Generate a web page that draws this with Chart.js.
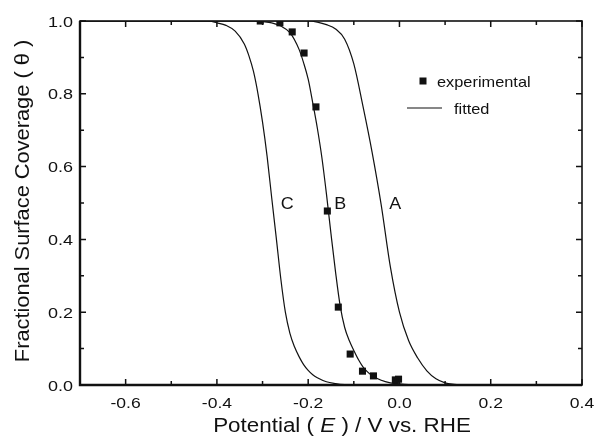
<!DOCTYPE html>
<html><head><meta charset="utf-8">
<script src="https://cdn.jsdelivr.net/npm/chart.js@4/dist/chart.umd.min.js"></script>
<style>html,body{margin:0;padding:0;background:#fff;}#wrap{width:596px;height:437px;}</style>
</head><body><div id="wrap"><canvas id="c" width="596" height="437"></canvas></div>
<script>
// ---- data ----
const expPotential = [-0.305, -0.262, -0.235, -0.209, -0.183, -0.158, -0.134, -0.108, -0.081, -0.057, -0.009, -0.002];
const expCoverage  = [1.000, 0.995, 0.970, 0.912, 0.764, 0.478, 0.214, 0.085, 0.038, 0.025, 0.014, 0.016];

const fitA_E = [-0.70, -0.20, -0.18, -0.16, -0.14, -0.12, -0.10, -0.08, -0.06, -0.04, -0.02, 0.00, 0.02, 0.04, 0.06, 0.08, 0.10, 0.12, 0.14, 0.40];
const fitA_T = [1.000, 1.000, 0.997, 0.990, 0.978, 0.950, 0.882, 0.766, 0.640, 0.495, 0.325, 0.200, 0.122, 0.074, 0.039, 0.017, 0.006, 0.002, 0.000, 0.000];

const fitB_E = [-0.70, -0.32, -0.30, -0.28, -0.26, -0.24, -0.22, -0.21, -0.20, -0.19, -0.18, -0.17, -0.16, -0.15, -0.14, -0.13, -0.12, -0.11, -0.10, -0.09, -0.08, -0.07, -0.06, -0.04, -0.02, 0.00, 0.02, 0.05, 0.40];
const fitB_T = [1.000, 1.000, 0.998, 0.995, 0.986, 0.968, 0.922, 0.885, 0.840, 0.775, 0.706, 0.625, 0.525, 0.415, 0.310, 0.218, 0.158, 0.122, 0.095, 0.070, 0.050, 0.036, 0.026, 0.013, 0.006, 0.003, 0.001, 0.000, 0.000];

const fitC_E = [-0.70, -0.42, -0.40, -0.38, -0.36, -0.34, -0.33, -0.32, -0.31, -0.30, -0.29, -0.28, -0.27, -0.26, -0.25, -0.24, -0.23, -0.22, -0.21, -0.20, -0.19, -0.18, -0.16, -0.14, -0.12, -0.10, 0.40];
const fitC_T = [1.000, 1.000, 0.995, 0.988, 0.972, 0.937, 0.905, 0.862, 0.800, 0.722, 0.628, 0.515, 0.405, 0.292, 0.200, 0.142, 0.105, 0.078, 0.056, 0.040, 0.028, 0.020, 0.009, 0.004, 0.001, 0.000, 0.000];

const xTickValues  = [-0.6, -0.4, -0.2, 0.0, 0.2, 0.4];
const xMinorValues = [-0.7, -0.5, -0.3, -0.1, 0.1, 0.3];
const yTickValues  = [0.0, 0.2, 0.4, 0.6, 0.8, 1.0];
const yMinorValues = [0.1, 0.3, 0.5, 0.7, 0.9];

const curveNames = ['A', 'B', 'C'];
const legendNames = ['experimental', 'fitted'];
const xTitleParts = ['Potential ( ', 'E', ' ) / V vs. RHE'];
const yTitle = 'Fractional Surface Coverage ( \u03B8 )';

// ---- build chart ----
const pts = (xs, ys) => xs.map((x, i) => ({x: x, y: ys[i]}));
const FONT = '"Liberation Sans", Arial, Helvetica, sans-serif';
const INK = '#111';

const lineDs = (label, xs, ys) => ({
  type: 'line', label: label, data: pts(xs, ys), showLine: true,
  borderColor: INK, borderWidth: 1.2, pointRadius: 0, fill: false,
  cubicInterpolationMode: 'monotone'
});

// draw text stretched horizontally by sx; align: 'left'|'center'|'right'
function txt(ctx, s, x, y, font, align, sx, baseline) {
  ctx.save();
  ctx.font = font;
  ctx.textBaseline = baseline || 'alphabetic';
  const w = ctx.measureText(s).width * sx;
  let x0 = x;
  if (align === 'center') x0 = x - w / 2;
  else if (align === 'right') x0 = x - w;
  ctx.translate(x0, y);
  ctx.scale(sx, 1);
  ctx.textAlign = 'left';
  ctx.fillText(s, 0, 0);
  ctx.restore();
  return w;
}

const deco = {
  id: 'deco',
  afterDraw(chart) {
    const ctx = chart.ctx, a = chart.chartArea, xs = chart.scales.x, ys = chart.scales.y;
    ctx.save();
    ctx.strokeStyle = INK; ctx.fillStyle = INK;
    // frame
    ctx.lineWidth = 1.6;
    ctx.strokeRect(a.left, a.top, a.right - a.left, a.bottom - a.top);
    ctx.lineWidth = 2.4;
    ctx.beginPath();
    ctx.moveTo(a.left, a.top); ctx.lineTo(a.left, a.bottom); ctx.lineTo(a.right, a.bottom);
    ctx.stroke();
    // ticks (inward)
    ctx.lineWidth = 1.5;
    const tickX = (v, len) => {
      const p = xs.getPixelForValue(v);
      ctx.beginPath();
      ctx.moveTo(p, a.bottom); ctx.lineTo(p, a.bottom - len);
      ctx.moveTo(p, a.top); ctx.lineTo(p, a.top + len);
      ctx.stroke();
    };
    const tickY = (v, len) => {
      const p = ys.getPixelForValue(v);
      ctx.beginPath();
      ctx.moveTo(a.left, p); ctx.lineTo(a.left + len, p);
      ctx.moveTo(a.right, p); ctx.lineTo(a.right - len, p);
      ctx.stroke();
    };
    xTickValues.forEach(v => tickX(v, 6));
    xMinorValues.forEach(v => tickX(v, 4));
    yTickValues.forEach(v => tickY(v, 6));
    yMinorValues.forEach(v => tickY(v, 4));

    // tick labels
    const tickFont = '15px ' + FONT;
    xTickValues.forEach(v => txt(ctx, v.toFixed(1), xs.getPixelForValue(v), a.bottom + 23, tickFont, 'center', 1.17));
    yTickValues.forEach(v => txt(ctx, v.toFixed(1), a.left - 7, ys.getPixelForValue(v) + 5.5, tickFont, 'right', 1.2));

    // curve labels
    const labelPos = {A: [-0.009, 0.5], B: [-0.130, 0.5], C: [-0.246, 0.5]};
    curveNames.forEach(n => {
      txt(ctx, n, xs.getPixelForValue(labelPos[n][0]), ys.getPixelForValue(labelPos[n][1]) + 6, '16px ' + FONT, 'center', 1.12);
    });

    // legend
    const lx = a.left + 343, ly1 = 81, ly2 = 108;
    ctx.fillRect(lx - 3.5, ly1 - 3.5, 7, 7);
    txt(ctx, legendNames[0], lx + 14, ly1 + 5.5, '15px ' + FONT, 'left', 1.09);
    ctx.lineWidth = 1.2;
    ctx.beginPath(); ctx.moveTo(lx - 16, ly2); ctx.lineTo(lx + 19, ly2); ctx.stroke();
    txt(ctx, legendNames[1], lx + 31, ly2 + 5.5, '15px ' + FONT, 'left', 1.09);

    // x title with italic E
    const tf = '20px ' + FONT, tfi = 'italic 20px ' + FONT, sx = 1.12;
    ctx.font = tf; const w0 = ctx.measureText(xTitleParts[0]).width * sx, w2 = ctx.measureText(xTitleParts[2]).width * sx;
    ctx.font = tfi; const w1 = ctx.measureText(xTitleParts[1]).width * sx;
    let tx = 342 - (w0 + w1 + w2) / 2;
    const ty = 432;
    tx += txt(ctx, xTitleParts[0], tx, ty, tf, 'left', sx);
    tx += txt(ctx, xTitleParts[1], tx, ty, tfi, 'left', sx);
    txt(ctx, xTitleParts[2], tx, ty, tf, 'left', sx);

    // y title (rotated)
    ctx.save();
    ctx.translate(29, 201); ctx.rotate(-Math.PI / 2);
    txt(ctx, yTitle, 0, 0, tf, 'center', 1.09);
    ctx.restore();
    ctx.restore();
  }
};

new Chart(document.getElementById('c'), {
  type: 'scatter',
  data: {
    datasets: [
      { label: 'experimental', data: pts(expPotential, expCoverage), pointStyle: 'rect',
        pointRadius: 5, pointBackgroundColor: INK, pointBorderWidth: 0, showLine: false, order: 0 },
      lineDs('A', fitA_E, fitA_T),
      lineDs('B', fitB_E, fitB_T),
      lineDs('C', fitC_E, fitC_T)
    ]
  },
  options: {
    responsive: false, animation: false, devicePixelRatio: 1,
    layout: { padding: { left: 0, top: 21, right: 14, bottom: 0 } },
    plugins: { legend: { display: false }, tooltip: { enabled: false } },
    scales: {
      x: {
        type: 'linear', min: -0.7, max: 0.4,
        afterBuildTicks: s => { s.ticks = xTickValues.map(v => ({value: v})); },
        afterFit: s => { s.height = 52; },
        grid: { display: false, drawTicks: false }, border: { display: false },
        ticks: { display: false }
      },
      y: {
        type: 'linear', min: 0, max: 1.0,
        afterBuildTicks: s => { s.ticks = yTickValues.map(v => ({value: v})); },
        afterFit: s => { s.width = 80; },
        grid: { display: false, drawTicks: false }, border: { display: false },
        ticks: { display: false }
      }
    }
  },
  plugins: [deco]
});
</script></body></html>
